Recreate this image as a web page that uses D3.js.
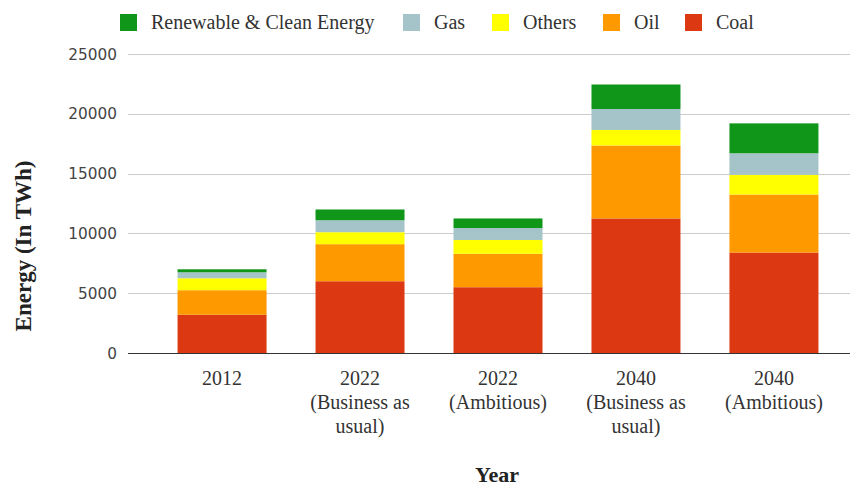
<!DOCTYPE html>
<html>
<head>
<meta charset="utf-8">
<script src="https://cdn.jsdelivr.net/npm/d3@7"></script>
<style>
  body { margin: 0; background: #fff; }
  svg { display: block; }
</style>
</head>
<body>
<div id="chart"></div>
<script>
var w = 854,
  h = 488;

// data
var categories = ['2012', '2022 (Business as usual)', '2022 (Ambitious)', '2040 (Business as usual)', '2040 (Ambitious)'];
var labelLines = [['2012'], ['2022', '(Business as', 'usual)'], ['2022', '(Ambitious)'], ['2040', '(Business as', 'usual)'], ['2040', '(Ambitious)']];
var coal = [3200, 6000, 5500, 11250, 8400];
var oil = [2050, 3100, 2800, 6100, 4850];
var others = [1000, 1000, 1150, 1300, 1650];
var gas = [500, 1000, 1000, 1750, 1800];
var renewable = [250, 900, 800, 2050, 2500];
var yTicks = [0, 5000, 10000, 15000, 20000, 25000];

var seriesNames = ['Coal', 'Oil', 'Others', 'Gas', 'Renewable & Clean Energy'];
var seriesValues = [coal, oil, others, gas, renewable];
var colors = ['#dc3912', '#ff9900', '#ffff00', '#a5c4c9', '#109618'];
var legendOrder = [4, 3, 2, 1, 0];

var rows = categories.map(function(c, i) {
  var r = { cat: c };
  seriesNames.forEach(function(s, k) { r[s] = seriesValues[k][i]; });
  return r;
});
var stacked = d3.stack().keys(seriesNames)(rows);

var svg = d3.select('#chart').append('svg')
  .attr('width', w)
  .attr('height', h);

var left = 128, right = 850;
var x = d3.scaleBand().domain(categories).range([153, 843]).paddingInner(0.355).paddingOuter(0.178);
var y = d3.scaleLinear().domain([0, 25000]).range([353, 54]);

// gridlines + y labels
svg.selectAll('.grid').data(yTicks).enter().append('line')
  .attr('x1', left).attr('x2', right)
  .attr('y1', function(d) { return Math.round(y(d)) + 0.5; })
  .attr('y2', function(d) { return Math.round(y(d)) + 0.5; })
  .attr('stroke', function(d) { return d === 0 ? '#333' : '#ccc'; })
  .attr('stroke-width', 1);

svg.selectAll('.ylab').data(yTicks).enter().append('text')
  .attr('x', 117)
  .attr('y', function(d) { return y(d) + 5.5; })
  .attr('text-anchor', 'end')
  .attr('font-family', 'DejaVu Sans, sans-serif')
  .attr('font-size', 15.3)
  .attr('fill', '#444')
  .text(function(d) { return d; });

// stacked bars
var layer = svg.selectAll('.layer').data(stacked).enter().append('g')
  .attr('fill', function(d, i) { return colors[i]; });

layer.selectAll('rect').data(function(d) { return d; }).enter().append('rect')
  .attr('x', function(d) { return x(d.data.cat); })
  .attr('width', x.bandwidth())
  .attr('y', function(d) { return y(d[1]); })
  .attr('height', function(d) { return y(d[0]) - y(d[1]); });

// x labels
var xl = svg.selectAll('.xlab').data(categories).enter().append('text')
  .attr('text-anchor', 'middle')
  .attr('font-family', 'Liberation Serif, serif')
  .attr('font-size', 20)
  .attr('fill', '#333')
  .attr('transform', function(d) { return 'translate(' + (x(d) + x.bandwidth() / 2) + ',385)'; });
xl.each(function(d, i) {
  var t = d3.select(this);
  labelLines[i].forEach(function(line, j) {
    t.append('tspan').attr('x', 0).attr('y', j * 24).text(line);
  });
});

// axis titles
svg.append('text')
  .attr('x', 497).attr('y', 482)
  .attr('text-anchor', 'middle')
  .attr('font-family', 'Liberation Serif, serif')
  .attr('font-weight', 'bold')
  .attr('font-size', 22)
  .attr('fill', '#222')
  .text('Year');

svg.append('text')
  .attr('transform', 'translate(31,246) rotate(-90)')
  .attr('text-anchor', 'middle')
  .attr('font-family', 'Liberation Serif, serif')
  .attr('font-weight', 'bold')
  .attr('font-size', 23)
  .attr('fill', '#222')
  .text('Energy (In TWh)');

// legend
var legendX = [120, 403, 492, 603, 685];
var leg = svg.selectAll('.leg').data(legendOrder).enter().append('g')
  .attr('transform', function(d, i) { return 'translate(' + legendX[i] + ',14)'; });
leg.append('rect')
  .attr('width', 17).attr('height', 17)
  .attr('fill', function(d) { return colors[d]; });
leg.append('text')
  .attr('x', 31).attr('y', 15)
  .attr('font-family', 'Liberation Serif, serif')
  .attr('font-size', 20)
  .attr('fill', '#333')
  .text(function(d) { return seriesNames[d]; });
</script>
</body>
</html>
